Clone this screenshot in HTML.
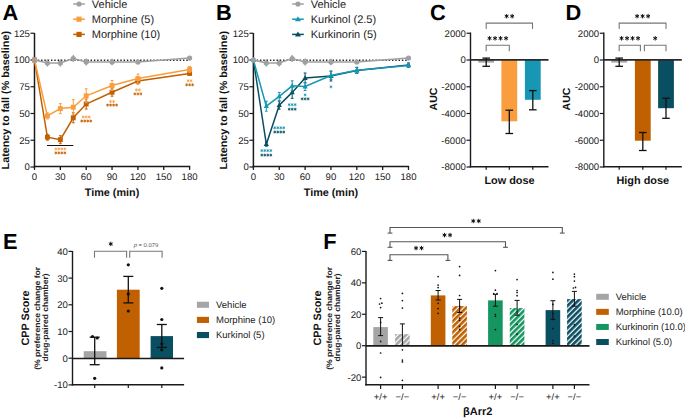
<!DOCTYPE html>
<html><head><meta charset="utf-8"><style>
html,body{margin:0;padding:0;background:#fff;width:685px;height:418px;overflow:hidden}
svg{display:block;font-family:"Liberation Sans", sans-serif;text-rendering:geometricPrecision}
</style></head><body>
<svg width="685" height="418" viewBox="0 0 685 418">
<rect width="685" height="418" fill="#fff"/>
<text x="2.40" y="19.90" font-size="21.8" text-anchor="start" font-weight="bold" fill="#000" >A</text>
<text x="216.00" y="19.90" font-size="21.8" text-anchor="start" font-weight="bold" fill="#000" >B</text>
<text x="430.00" y="19.90" font-size="21.8" text-anchor="start" font-weight="bold" fill="#000" >C</text>
<text x="565.40" y="19.90" font-size="21.8" text-anchor="start" font-weight="bold" fill="#000" >D</text>
<text x="3.00" y="248.60" font-size="21.8" text-anchor="start" font-weight="bold" fill="#000" >E</text>
<text x="323.20" y="248.60" font-size="21.8" text-anchor="start" font-weight="bold" fill="#000" >F</text>
<line x1="34.50" y1="33.00" x2="34.50" y2="167.30" stroke="#1a1a1a" stroke-width="1.5" />
<line x1="33.80" y1="166.60" x2="190.20" y2="166.60" stroke="#1a1a1a" stroke-width="1.5" />
<line x1="30.50" y1="33.25" x2="34.50" y2="33.25" stroke="#1a1a1a" stroke-width="1.2" />
<text x="29.90" y="36.70" font-size="9.6" text-anchor="end" font-weight="normal" fill="#222" >125</text>
<line x1="30.50" y1="60.00" x2="34.50" y2="60.00" stroke="#1a1a1a" stroke-width="1.2" />
<text x="29.90" y="63.45" font-size="9.6" text-anchor="end" font-weight="normal" fill="#222" >100</text>
<line x1="30.50" y1="86.75" x2="34.50" y2="86.75" stroke="#1a1a1a" stroke-width="1.2" />
<text x="29.90" y="90.20" font-size="9.6" text-anchor="end" font-weight="normal" fill="#222" >75</text>
<line x1="30.50" y1="113.50" x2="34.50" y2="113.50" stroke="#1a1a1a" stroke-width="1.2" />
<text x="29.90" y="116.95" font-size="9.6" text-anchor="end" font-weight="normal" fill="#222" >50</text>
<line x1="30.50" y1="140.25" x2="34.50" y2="140.25" stroke="#1a1a1a" stroke-width="1.2" />
<text x="29.90" y="143.70" font-size="9.6" text-anchor="end" font-weight="normal" fill="#222" >25</text>
<line x1="30.50" y1="167.00" x2="34.50" y2="167.00" stroke="#1a1a1a" stroke-width="1.2" />
<text x="29.90" y="170.45" font-size="9.6" text-anchor="end" font-weight="normal" fill="#222" >0</text>
<line x1="34.50" y1="166.60" x2="34.50" y2="169.90" stroke="#1a1a1a" stroke-width="1.3" />
<text x="34.50" y="180.10" font-size="9.6" text-anchor="middle" font-weight="normal" fill="#222" >0</text>
<line x1="60.35" y1="166.60" x2="60.35" y2="169.90" stroke="#1a1a1a" stroke-width="1.3" />
<text x="60.35" y="180.10" font-size="9.6" text-anchor="middle" font-weight="normal" fill="#222" >30</text>
<line x1="86.20" y1="166.60" x2="86.20" y2="169.90" stroke="#1a1a1a" stroke-width="1.3" />
<text x="86.20" y="180.10" font-size="9.6" text-anchor="middle" font-weight="normal" fill="#222" >60</text>
<line x1="112.05" y1="166.60" x2="112.05" y2="169.90" stroke="#1a1a1a" stroke-width="1.3" />
<text x="112.05" y="180.10" font-size="9.6" text-anchor="middle" font-weight="normal" fill="#222" >90</text>
<line x1="137.90" y1="166.60" x2="137.90" y2="169.90" stroke="#1a1a1a" stroke-width="1.3" />
<text x="137.90" y="180.10" font-size="9.6" text-anchor="middle" font-weight="normal" fill="#222" >120</text>
<line x1="163.75" y1="166.60" x2="163.75" y2="169.90" stroke="#1a1a1a" stroke-width="1.3" />
<text x="163.75" y="180.10" font-size="9.6" text-anchor="middle" font-weight="normal" fill="#222" >150</text>
<line x1="189.60" y1="166.60" x2="189.60" y2="169.90" stroke="#1a1a1a" stroke-width="1.3" />
<text x="189.60" y="180.10" font-size="9.6" text-anchor="middle" font-weight="normal" fill="#222" >180</text>
<text x="112.05" y="195.80" font-size="10.8" text-anchor="middle" font-weight="bold" fill="#111" >Time (min)</text>
<text transform="translate(9.3,100.2) rotate(-90)" x="0" y="0" font-size="10.5" text-anchor="middle" font-weight="bold" fill="#111" textLength="138.5" lengthAdjust="spacingAndGlyphs">Latency to fall (% baseline)</text>
<line x1="34.50" y1="60.30" x2="189.60" y2="60.30" stroke="#222" stroke-width="1.4" stroke-dasharray="1.4 1.9"/>
<polyline points="34.50,60.00 47.42,137.20 60.35,139.70 73.28,117.80 86.20,104.00 112.05,92.20 137.90,81.00 189.60,73.40" fill="none" stroke="#C06000" stroke-width="1.5"/>
<rect x="32.05" y="57.55" width="4.90" height="4.90" fill="#C06000"/>
<line x1="47.42" y1="134.20" x2="47.42" y2="140.20" stroke="#C06000" stroke-width="1.0" />
<line x1="46.02" y1="134.20" x2="48.82" y2="134.20" stroke="#C06000" stroke-width="1.0" />
<line x1="46.02" y1="140.20" x2="48.82" y2="140.20" stroke="#C06000" stroke-width="1.0" />
<rect x="44.97" y="134.75" width="4.90" height="4.90" fill="#C06000"/>
<line x1="60.35" y1="135.70" x2="60.35" y2="143.70" stroke="#C06000" stroke-width="1.0" />
<line x1="58.95" y1="135.70" x2="61.75" y2="135.70" stroke="#C06000" stroke-width="1.0" />
<line x1="58.95" y1="143.70" x2="61.75" y2="143.70" stroke="#C06000" stroke-width="1.0" />
<rect x="57.90" y="137.25" width="4.90" height="4.90" fill="#C06000"/>
<line x1="73.28" y1="112.80" x2="73.28" y2="122.80" stroke="#C06000" stroke-width="1.0" />
<line x1="71.88" y1="112.80" x2="74.68" y2="112.80" stroke="#C06000" stroke-width="1.0" />
<line x1="71.88" y1="122.80" x2="74.68" y2="122.80" stroke="#C06000" stroke-width="1.0" />
<rect x="70.83" y="115.35" width="4.90" height="4.90" fill="#C06000"/>
<line x1="86.20" y1="99.00" x2="86.20" y2="109.00" stroke="#C06000" stroke-width="1.0" />
<line x1="84.80" y1="99.00" x2="87.60" y2="99.00" stroke="#C06000" stroke-width="1.0" />
<line x1="84.80" y1="109.00" x2="87.60" y2="109.00" stroke="#C06000" stroke-width="1.0" />
<rect x="83.75" y="101.55" width="4.90" height="4.90" fill="#C06000"/>
<line x1="112.05" y1="88.20" x2="112.05" y2="96.20" stroke="#C06000" stroke-width="1.0" />
<line x1="110.65" y1="88.20" x2="113.45" y2="88.20" stroke="#C06000" stroke-width="1.0" />
<line x1="110.65" y1="96.20" x2="113.45" y2="96.20" stroke="#C06000" stroke-width="1.0" />
<rect x="109.60" y="89.75" width="4.90" height="4.90" fill="#C06000"/>
<line x1="137.90" y1="78.00" x2="137.90" y2="84.00" stroke="#C06000" stroke-width="1.0" />
<line x1="136.50" y1="78.00" x2="139.30" y2="78.00" stroke="#C06000" stroke-width="1.0" />
<line x1="136.50" y1="84.00" x2="139.30" y2="84.00" stroke="#C06000" stroke-width="1.0" />
<rect x="135.45" y="78.55" width="4.90" height="4.90" fill="#C06000"/>
<line x1="189.60" y1="71.40" x2="189.60" y2="75.40" stroke="#C06000" stroke-width="1.0" />
<line x1="188.20" y1="71.40" x2="191.00" y2="71.40" stroke="#C06000" stroke-width="1.0" />
<line x1="188.20" y1="75.40" x2="191.00" y2="75.40" stroke="#C06000" stroke-width="1.0" />
<rect x="187.15" y="70.95" width="4.90" height="4.90" fill="#C06000"/>
<polyline points="34.50,60.00 47.42,115.90 60.35,108.60 73.28,107.20 86.20,95.80 112.05,85.50 137.90,78.60 189.60,69.40" fill="none" stroke="#F99D3E" stroke-width="1.5"/>
<rect x="32.05" y="57.55" width="4.90" height="4.90" fill="#F99D3E"/>
<line x1="47.42" y1="112.90" x2="47.42" y2="118.90" stroke="#F99D3E" stroke-width="1.0" />
<line x1="46.02" y1="112.90" x2="48.82" y2="112.90" stroke="#F99D3E" stroke-width="1.0" />
<line x1="46.02" y1="118.90" x2="48.82" y2="118.90" stroke="#F99D3E" stroke-width="1.0" />
<rect x="44.97" y="113.45" width="4.90" height="4.90" fill="#F99D3E"/>
<line x1="60.35" y1="103.60" x2="60.35" y2="113.60" stroke="#F99D3E" stroke-width="1.0" />
<line x1="58.95" y1="103.60" x2="61.75" y2="103.60" stroke="#F99D3E" stroke-width="1.0" />
<line x1="58.95" y1="113.60" x2="61.75" y2="113.60" stroke="#F99D3E" stroke-width="1.0" />
<rect x="57.90" y="106.15" width="4.90" height="4.90" fill="#F99D3E"/>
<line x1="73.28" y1="99.70" x2="73.28" y2="114.70" stroke="#F99D3E" stroke-width="1.0" />
<line x1="71.88" y1="99.70" x2="74.68" y2="99.70" stroke="#F99D3E" stroke-width="1.0" />
<line x1="71.88" y1="114.70" x2="74.68" y2="114.70" stroke="#F99D3E" stroke-width="1.0" />
<rect x="70.83" y="104.75" width="4.90" height="4.90" fill="#F99D3E"/>
<line x1="86.20" y1="88.80" x2="86.20" y2="102.80" stroke="#F99D3E" stroke-width="1.0" />
<line x1="84.80" y1="88.80" x2="87.60" y2="88.80" stroke="#F99D3E" stroke-width="1.0" />
<line x1="84.80" y1="102.80" x2="87.60" y2="102.80" stroke="#F99D3E" stroke-width="1.0" />
<rect x="83.75" y="93.35" width="4.90" height="4.90" fill="#F99D3E"/>
<line x1="112.05" y1="80.50" x2="112.05" y2="90.50" stroke="#F99D3E" stroke-width="1.0" />
<line x1="110.65" y1="80.50" x2="113.45" y2="80.50" stroke="#F99D3E" stroke-width="1.0" />
<line x1="110.65" y1="90.50" x2="113.45" y2="90.50" stroke="#F99D3E" stroke-width="1.0" />
<rect x="109.60" y="83.05" width="4.90" height="4.90" fill="#F99D3E"/>
<line x1="137.90" y1="74.10" x2="137.90" y2="83.10" stroke="#F99D3E" stroke-width="1.0" />
<line x1="136.50" y1="74.10" x2="139.30" y2="74.10" stroke="#F99D3E" stroke-width="1.0" />
<line x1="136.50" y1="83.10" x2="139.30" y2="83.10" stroke="#F99D3E" stroke-width="1.0" />
<rect x="135.45" y="76.15" width="4.90" height="4.90" fill="#F99D3E"/>
<line x1="189.60" y1="66.40" x2="189.60" y2="72.40" stroke="#F99D3E" stroke-width="1.0" />
<line x1="188.20" y1="66.40" x2="191.00" y2="66.40" stroke="#F99D3E" stroke-width="1.0" />
<line x1="188.20" y1="72.40" x2="191.00" y2="72.40" stroke="#F99D3E" stroke-width="1.0" />
<rect x="187.15" y="66.95" width="4.90" height="4.90" fill="#F99D3E"/>
<polyline points="34.50,60.00 47.42,63.00 60.35,63.00 73.28,58.50 86.20,62.00 112.05,62.00 137.90,62.00 189.60,58.10" fill="none" stroke="#A0A0A4" stroke-width="1.5"/>
<circle cx="34.50" cy="60.00" r="2.6" fill="#A0A0A4"/>
<line x1="47.42" y1="59.40" x2="47.42" y2="66.60" stroke="#A0A0A4" stroke-width="1.4" />
<circle cx="47.42" cy="63.00" r="2.6" fill="#A0A0A4"/>
<line x1="60.35" y1="59.40" x2="60.35" y2="66.60" stroke="#A0A0A4" stroke-width="1.4" />
<circle cx="60.35" cy="63.00" r="2.6" fill="#A0A0A4"/>
<line x1="73.28" y1="54.90" x2="73.28" y2="62.10" stroke="#A0A0A4" stroke-width="1.4" />
<circle cx="73.28" cy="58.50" r="2.6" fill="#A0A0A4"/>
<line x1="86.20" y1="58.40" x2="86.20" y2="65.60" stroke="#A0A0A4" stroke-width="1.4" />
<circle cx="86.20" cy="62.00" r="2.6" fill="#A0A0A4"/>
<line x1="112.05" y1="58.80" x2="112.05" y2="65.20" stroke="#A0A0A4" stroke-width="1.4" />
<circle cx="112.05" cy="62.00" r="2.6" fill="#A0A0A4"/>
<line x1="137.90" y1="59.80" x2="137.90" y2="64.20" stroke="#A0A0A4" stroke-width="1.4" />
<circle cx="137.90" cy="62.00" r="2.6" fill="#A0A0A4"/>
<circle cx="189.60" cy="58.10" r="2.6" fill="#A0A0A4"/>
<line x1="73.20" y1="4.00" x2="84.90" y2="4.00" stroke="#A0A0A4" stroke-width="1.5" />
<circle cx="79.05" cy="4.00" r="2.6" fill="#A0A0A4"/>
<text x="91.80" y="8.00" font-size="11" text-anchor="start" font-weight="normal" fill="#222" >Vehicle</text>
<line x1="73.20" y1="19.20" x2="84.90" y2="19.20" stroke="#F99D3E" stroke-width="1.5" />
<rect x="76.45" y="16.60" width="5.20" height="5.20" fill="#F99D3E"/>
<text x="91.80" y="23.20" font-size="11" text-anchor="start" font-weight="normal" fill="#222" >Morphine (5)</text>
<line x1="73.20" y1="34.40" x2="84.90" y2="34.40" stroke="#C06000" stroke-width="1.5" />
<rect x="76.45" y="31.80" width="5.20" height="5.20" fill="#C06000"/>
<text x="91.80" y="38.40" font-size="11" text-anchor="start" font-weight="normal" fill="#222" >Morphine (10)</text>
<path d="M55.85,147.40L55.85,150.40M54.55,148.15L57.15,149.65M57.15,148.15L54.55,149.65" stroke="#F99D3E" stroke-width="0.8" fill="none" stroke-linecap="butt"/>
<path d="M58.85,147.40L58.85,150.40M57.55,148.15L60.15,149.65M60.15,148.15L57.55,149.65" stroke="#F99D3E" stroke-width="0.8" fill="none" stroke-linecap="butt"/>
<path d="M61.85,147.40L61.85,150.40M60.55,148.15L63.15,149.65M63.15,148.15L60.55,149.65" stroke="#F99D3E" stroke-width="0.8" fill="none" stroke-linecap="butt"/>
<path d="M64.85,147.40L64.85,150.40M63.55,148.15L66.15,149.65M66.15,148.15L63.55,149.65" stroke="#F99D3E" stroke-width="0.8" fill="none" stroke-linecap="butt"/>
<path d="M55.85,151.40L55.85,154.40M54.55,152.15L57.15,153.65M57.15,152.15L54.55,153.65" stroke="#C06000" stroke-width="0.8" fill="none" stroke-linecap="butt"/>
<path d="M58.85,151.40L58.85,154.40M57.55,152.15L60.15,153.65M60.15,152.15L57.55,153.65" stroke="#C06000" stroke-width="0.8" fill="none" stroke-linecap="butt"/>
<path d="M61.85,151.40L61.85,154.40M60.55,152.15L63.15,153.65M63.15,152.15L60.55,153.65" stroke="#C06000" stroke-width="0.8" fill="none" stroke-linecap="butt"/>
<path d="M64.85,151.40L64.85,154.40M63.55,152.15L66.15,153.65M66.15,152.15L63.55,153.65" stroke="#C06000" stroke-width="0.8" fill="none" stroke-linecap="butt"/>
<path d="M83.20,115.50L83.20,118.50M81.90,116.25L84.50,117.75M84.50,116.25L81.90,117.75" stroke="#F99D3E" stroke-width="0.8" fill="none" stroke-linecap="butt"/>
<path d="M86.20,115.50L86.20,118.50M84.90,116.25L87.50,117.75M87.50,116.25L84.90,117.75" stroke="#F99D3E" stroke-width="0.8" fill="none" stroke-linecap="butt"/>
<path d="M89.20,115.50L89.20,118.50M87.90,116.25L90.50,117.75M90.50,116.25L87.90,117.75" stroke="#F99D3E" stroke-width="0.8" fill="none" stroke-linecap="butt"/>
<path d="M81.70,119.50L81.70,122.50M80.40,120.25L83.00,121.75M83.00,120.25L80.40,121.75" stroke="#C06000" stroke-width="0.8" fill="none" stroke-linecap="butt"/>
<path d="M84.70,119.50L84.70,122.50M83.40,120.25L86.00,121.75M86.00,120.25L83.40,121.75" stroke="#C06000" stroke-width="0.8" fill="none" stroke-linecap="butt"/>
<path d="M87.70,119.50L87.70,122.50M86.40,120.25L89.00,121.75M89.00,120.25L86.40,121.75" stroke="#C06000" stroke-width="0.8" fill="none" stroke-linecap="butt"/>
<path d="M90.70,119.50L90.70,122.50M89.40,120.25L92.00,121.75M92.00,120.25L89.40,121.75" stroke="#C06000" stroke-width="0.8" fill="none" stroke-linecap="butt"/>
<path d="M110.55,100.00L110.55,103.00M109.25,100.75L111.85,102.25M111.85,100.75L109.25,102.25" stroke="#F99D3E" stroke-width="0.8" fill="none" stroke-linecap="butt"/>
<path d="M113.55,100.00L113.55,103.00M112.25,100.75L114.85,102.25M114.85,100.75L112.25,102.25" stroke="#F99D3E" stroke-width="0.8" fill="none" stroke-linecap="butt"/>
<path d="M107.55,103.60L107.55,106.60M106.25,104.35L108.85,105.85M108.85,104.35L106.25,105.85" stroke="#C06000" stroke-width="0.8" fill="none" stroke-linecap="butt"/>
<path d="M110.55,103.60L110.55,106.60M109.25,104.35L111.85,105.85M111.85,104.35L109.25,105.85" stroke="#C06000" stroke-width="0.8" fill="none" stroke-linecap="butt"/>
<path d="M113.55,103.60L113.55,106.60M112.25,104.35L114.85,105.85M114.85,104.35L112.25,105.85" stroke="#C06000" stroke-width="0.8" fill="none" stroke-linecap="butt"/>
<path d="M116.55,103.60L116.55,106.60M115.25,104.35L117.85,105.85M117.85,104.35L115.25,105.85" stroke="#C06000" stroke-width="0.8" fill="none" stroke-linecap="butt"/>
<path d="M136.40,88.40L136.40,91.40M135.10,89.15L137.70,90.65M137.70,89.15L135.10,90.65" stroke="#F99D3E" stroke-width="0.8" fill="none" stroke-linecap="butt"/>
<path d="M139.40,88.40L139.40,91.40M138.10,89.15L140.70,90.65M140.70,89.15L138.10,90.65" stroke="#F99D3E" stroke-width="0.8" fill="none" stroke-linecap="butt"/>
<path d="M134.90,92.40L134.90,95.40M133.60,93.15L136.20,94.65M136.20,93.15L133.60,94.65" stroke="#C06000" stroke-width="0.8" fill="none" stroke-linecap="butt"/>
<path d="M137.90,92.40L137.90,95.40M136.60,93.15L139.20,94.65M139.20,93.15L136.60,94.65" stroke="#C06000" stroke-width="0.8" fill="none" stroke-linecap="butt"/>
<path d="M140.90,92.40L140.90,95.40M139.60,93.15L142.20,94.65M142.20,93.15L139.60,94.65" stroke="#C06000" stroke-width="0.8" fill="none" stroke-linecap="butt"/>
<path d="M188.10,79.30L188.10,82.30M186.80,80.05L189.40,81.55M189.40,80.05L186.80,81.55" stroke="#F99D3E" stroke-width="0.8" fill="none" stroke-linecap="butt"/>
<path d="M191.10,79.30L191.10,82.30M189.80,80.05L192.40,81.55M192.40,80.05L189.80,81.55" stroke="#F99D3E" stroke-width="0.8" fill="none" stroke-linecap="butt"/>
<path d="M186.60,83.30L186.60,86.30M185.30,84.05L187.90,85.55M187.90,84.05L185.30,85.55" stroke="#C06000" stroke-width="0.8" fill="none" stroke-linecap="butt"/>
<path d="M189.60,83.30L189.60,86.30M188.30,84.05L190.90,85.55M190.90,84.05L188.30,85.55" stroke="#C06000" stroke-width="0.8" fill="none" stroke-linecap="butt"/>
<path d="M192.60,83.30L192.60,86.30M191.30,84.05L193.90,85.55M193.90,84.05L191.30,85.55" stroke="#C06000" stroke-width="0.8" fill="none" stroke-linecap="butt"/>
<line x1="47.00" y1="145.50" x2="73.30" y2="145.50" stroke="#111" stroke-width="1.0" />
<line x1="253.40" y1="33.00" x2="253.40" y2="167.30" stroke="#1a1a1a" stroke-width="1.5" />
<line x1="252.70" y1="166.60" x2="409.10" y2="166.60" stroke="#1a1a1a" stroke-width="1.5" />
<line x1="249.40" y1="33.25" x2="253.40" y2="33.25" stroke="#1a1a1a" stroke-width="1.2" />
<text x="248.80" y="36.70" font-size="9.6" text-anchor="end" font-weight="normal" fill="#222" >125</text>
<line x1="249.40" y1="60.00" x2="253.40" y2="60.00" stroke="#1a1a1a" stroke-width="1.2" />
<text x="248.80" y="63.45" font-size="9.6" text-anchor="end" font-weight="normal" fill="#222" >100</text>
<line x1="249.40" y1="86.75" x2="253.40" y2="86.75" stroke="#1a1a1a" stroke-width="1.2" />
<text x="248.80" y="90.20" font-size="9.6" text-anchor="end" font-weight="normal" fill="#222" >75</text>
<line x1="249.40" y1="113.50" x2="253.40" y2="113.50" stroke="#1a1a1a" stroke-width="1.2" />
<text x="248.80" y="116.95" font-size="9.6" text-anchor="end" font-weight="normal" fill="#222" >50</text>
<line x1="249.40" y1="140.25" x2="253.40" y2="140.25" stroke="#1a1a1a" stroke-width="1.2" />
<text x="248.80" y="143.70" font-size="9.6" text-anchor="end" font-weight="normal" fill="#222" >25</text>
<line x1="249.40" y1="167.00" x2="253.40" y2="167.00" stroke="#1a1a1a" stroke-width="1.2" />
<text x="248.80" y="170.45" font-size="9.6" text-anchor="end" font-weight="normal" fill="#222" >0</text>
<line x1="253.40" y1="166.60" x2="253.40" y2="169.90" stroke="#1a1a1a" stroke-width="1.3" />
<text x="253.40" y="180.10" font-size="9.6" text-anchor="middle" font-weight="normal" fill="#222" >0</text>
<line x1="279.25" y1="166.60" x2="279.25" y2="169.90" stroke="#1a1a1a" stroke-width="1.3" />
<text x="279.25" y="180.10" font-size="9.6" text-anchor="middle" font-weight="normal" fill="#222" >30</text>
<line x1="305.10" y1="166.60" x2="305.10" y2="169.90" stroke="#1a1a1a" stroke-width="1.3" />
<text x="305.10" y="180.10" font-size="9.6" text-anchor="middle" font-weight="normal" fill="#222" >60</text>
<line x1="330.95" y1="166.60" x2="330.95" y2="169.90" stroke="#1a1a1a" stroke-width="1.3" />
<text x="330.95" y="180.10" font-size="9.6" text-anchor="middle" font-weight="normal" fill="#222" >90</text>
<line x1="356.80" y1="166.60" x2="356.80" y2="169.90" stroke="#1a1a1a" stroke-width="1.3" />
<text x="356.80" y="180.10" font-size="9.6" text-anchor="middle" font-weight="normal" fill="#222" >120</text>
<line x1="382.65" y1="166.60" x2="382.65" y2="169.90" stroke="#1a1a1a" stroke-width="1.3" />
<text x="382.65" y="180.10" font-size="9.6" text-anchor="middle" font-weight="normal" fill="#222" >150</text>
<line x1="408.50" y1="166.60" x2="408.50" y2="169.90" stroke="#1a1a1a" stroke-width="1.3" />
<text x="408.50" y="180.10" font-size="9.6" text-anchor="middle" font-weight="normal" fill="#222" >180</text>
<text x="330.95" y="195.80" font-size="10.8" text-anchor="middle" font-weight="bold" fill="#111" >Time (min)</text>
<text transform="translate(227.2,100.2) rotate(-90)" x="0" y="0" font-size="10.5" text-anchor="middle" font-weight="bold" fill="#111" textLength="138.5" lengthAdjust="spacingAndGlyphs">Latency to fall (% baseline)</text>
<line x1="253.40" y1="60.30" x2="408.50" y2="60.30" stroke="#222" stroke-width="1.4" stroke-dasharray="1.4 1.9"/>
<polyline points="253.40,60.00 266.32,144.20 279.25,105.20 292.18,92.40 305.10,78.00 330.95,76.00 356.80,70.50 408.50,65.00" fill="none" stroke="#0A4E62" stroke-width="1.5"/>
<polygon points="253.40,57.10 256.00,61.90 250.80,61.90" fill="#0A4E62"/>
<line x1="266.32" y1="142.20" x2="266.32" y2="146.20" stroke="#0A4E62" stroke-width="1.0" />
<line x1="264.93" y1="142.20" x2="267.72" y2="142.20" stroke="#0A4E62" stroke-width="1.0" />
<line x1="264.93" y1="146.20" x2="267.72" y2="146.20" stroke="#0A4E62" stroke-width="1.0" />
<polygon points="266.32,141.30 268.93,146.10 263.72,146.10" fill="#0A4E62"/>
<line x1="279.25" y1="101.20" x2="279.25" y2="109.20" stroke="#0A4E62" stroke-width="1.0" />
<line x1="277.85" y1="101.20" x2="280.65" y2="101.20" stroke="#0A4E62" stroke-width="1.0" />
<line x1="277.85" y1="109.20" x2="280.65" y2="109.20" stroke="#0A4E62" stroke-width="1.0" />
<polygon points="279.25,102.30 281.85,107.10 276.65,107.10" fill="#0A4E62"/>
<line x1="292.18" y1="86.40" x2="292.18" y2="98.40" stroke="#0A4E62" stroke-width="1.0" />
<line x1="290.78" y1="86.40" x2="293.57" y2="86.40" stroke="#0A4E62" stroke-width="1.0" />
<line x1="290.78" y1="98.40" x2="293.57" y2="98.40" stroke="#0A4E62" stroke-width="1.0" />
<polygon points="292.18,89.50 294.78,94.30 289.57,94.30" fill="#0A4E62"/>
<line x1="305.10" y1="73.00" x2="305.10" y2="83.00" stroke="#0A4E62" stroke-width="1.0" />
<line x1="303.70" y1="73.00" x2="306.50" y2="73.00" stroke="#0A4E62" stroke-width="1.0" />
<line x1="303.70" y1="83.00" x2="306.50" y2="83.00" stroke="#0A4E62" stroke-width="1.0" />
<polygon points="305.10,75.10 307.70,79.90 302.50,79.90" fill="#0A4E62"/>
<line x1="330.95" y1="71.00" x2="330.95" y2="81.00" stroke="#0A4E62" stroke-width="1.0" />
<line x1="329.55" y1="71.00" x2="332.35" y2="71.00" stroke="#0A4E62" stroke-width="1.0" />
<line x1="329.55" y1="81.00" x2="332.35" y2="81.00" stroke="#0A4E62" stroke-width="1.0" />
<polygon points="330.95,73.10 333.55,77.90 328.35,77.90" fill="#0A4E62"/>
<line x1="356.80" y1="67.50" x2="356.80" y2="73.50" stroke="#0A4E62" stroke-width="1.0" />
<line x1="355.40" y1="67.50" x2="358.20" y2="67.50" stroke="#0A4E62" stroke-width="1.0" />
<line x1="355.40" y1="73.50" x2="358.20" y2="73.50" stroke="#0A4E62" stroke-width="1.0" />
<polygon points="356.80,67.60 359.40,72.40 354.20,72.40" fill="#0A4E62"/>
<line x1="408.50" y1="63.00" x2="408.50" y2="67.00" stroke="#0A4E62" stroke-width="1.0" />
<line x1="407.10" y1="63.00" x2="409.90" y2="63.00" stroke="#0A4E62" stroke-width="1.0" />
<line x1="407.10" y1="67.00" x2="409.90" y2="67.00" stroke="#0A4E62" stroke-width="1.0" />
<polygon points="408.50,62.10 411.10,66.90 405.90,66.90" fill="#0A4E62"/>
<polyline points="253.40,60.00 266.32,106.20 279.25,96.40 292.18,85.80 305.10,86.50 330.95,75.50 356.80,70.20 408.50,65.40" fill="none" stroke="#1797B3" stroke-width="1.5"/>
<polygon points="253.40,57.10 256.00,61.90 250.80,61.90" fill="#1797B3"/>
<line x1="266.32" y1="101.20" x2="266.32" y2="111.20" stroke="#1797B3" stroke-width="1.0" />
<line x1="264.93" y1="101.20" x2="267.72" y2="101.20" stroke="#1797B3" stroke-width="1.0" />
<line x1="264.93" y1="111.20" x2="267.72" y2="111.20" stroke="#1797B3" stroke-width="1.0" />
<polygon points="266.32,103.30 268.93,108.10 263.72,108.10" fill="#1797B3"/>
<line x1="279.25" y1="92.40" x2="279.25" y2="100.40" stroke="#1797B3" stroke-width="1.0" />
<line x1="277.85" y1="92.40" x2="280.65" y2="92.40" stroke="#1797B3" stroke-width="1.0" />
<line x1="277.85" y1="100.40" x2="280.65" y2="100.40" stroke="#1797B3" stroke-width="1.0" />
<polygon points="279.25,93.50 281.85,98.30 276.65,98.30" fill="#1797B3"/>
<line x1="292.18" y1="80.80" x2="292.18" y2="90.80" stroke="#1797B3" stroke-width="1.0" />
<line x1="290.78" y1="80.80" x2="293.57" y2="80.80" stroke="#1797B3" stroke-width="1.0" />
<line x1="290.78" y1="90.80" x2="293.57" y2="90.80" stroke="#1797B3" stroke-width="1.0" />
<polygon points="292.18,82.90 294.78,87.70 289.57,87.70" fill="#1797B3"/>
<line x1="305.10" y1="82.50" x2="305.10" y2="90.50" stroke="#1797B3" stroke-width="1.0" />
<line x1="303.70" y1="82.50" x2="306.50" y2="82.50" stroke="#1797B3" stroke-width="1.0" />
<line x1="303.70" y1="90.50" x2="306.50" y2="90.50" stroke="#1797B3" stroke-width="1.0" />
<polygon points="305.10,83.60 307.70,88.40 302.50,88.40" fill="#1797B3"/>
<line x1="330.95" y1="71.50" x2="330.95" y2="79.50" stroke="#1797B3" stroke-width="1.0" />
<line x1="329.55" y1="71.50" x2="332.35" y2="71.50" stroke="#1797B3" stroke-width="1.0" />
<line x1="329.55" y1="79.50" x2="332.35" y2="79.50" stroke="#1797B3" stroke-width="1.0" />
<polygon points="330.95,72.60 333.55,77.40 328.35,77.40" fill="#1797B3"/>
<line x1="356.80" y1="67.20" x2="356.80" y2="73.20" stroke="#1797B3" stroke-width="1.0" />
<line x1="355.40" y1="67.20" x2="358.20" y2="67.20" stroke="#1797B3" stroke-width="1.0" />
<line x1="355.40" y1="73.20" x2="358.20" y2="73.20" stroke="#1797B3" stroke-width="1.0" />
<polygon points="356.80,67.30 359.40,72.10 354.20,72.10" fill="#1797B3"/>
<line x1="408.50" y1="63.40" x2="408.50" y2="67.40" stroke="#1797B3" stroke-width="1.0" />
<line x1="407.10" y1="63.40" x2="409.90" y2="63.40" stroke="#1797B3" stroke-width="1.0" />
<line x1="407.10" y1="67.40" x2="409.90" y2="67.40" stroke="#1797B3" stroke-width="1.0" />
<polygon points="408.50,62.50 411.10,67.30 405.90,67.30" fill="#1797B3"/>
<polyline points="253.40,60.00 266.32,63.00 279.25,63.00 292.18,58.50 305.10,62.00 330.95,62.00 356.80,62.00 408.50,58.10" fill="none" stroke="#A0A0A4" stroke-width="1.5"/>
<circle cx="253.40" cy="60.00" r="2.6" fill="#A0A0A4"/>
<line x1="266.32" y1="59.40" x2="266.32" y2="66.60" stroke="#A0A0A4" stroke-width="1.4" />
<circle cx="266.32" cy="63.00" r="2.6" fill="#A0A0A4"/>
<line x1="279.25" y1="59.40" x2="279.25" y2="66.60" stroke="#A0A0A4" stroke-width="1.4" />
<circle cx="279.25" cy="63.00" r="2.6" fill="#A0A0A4"/>
<line x1="292.18" y1="54.90" x2="292.18" y2="62.10" stroke="#A0A0A4" stroke-width="1.4" />
<circle cx="292.18" cy="58.50" r="2.6" fill="#A0A0A4"/>
<line x1="305.10" y1="58.40" x2="305.10" y2="65.60" stroke="#A0A0A4" stroke-width="1.4" />
<circle cx="305.10" cy="62.00" r="2.6" fill="#A0A0A4"/>
<line x1="330.95" y1="58.80" x2="330.95" y2="65.20" stroke="#A0A0A4" stroke-width="1.4" />
<circle cx="330.95" cy="62.00" r="2.6" fill="#A0A0A4"/>
<line x1="356.80" y1="59.80" x2="356.80" y2="64.20" stroke="#A0A0A4" stroke-width="1.4" />
<circle cx="356.80" cy="62.00" r="2.6" fill="#A0A0A4"/>
<circle cx="408.50" cy="58.10" r="2.6" fill="#A0A0A4"/>
<line x1="292.10" y1="4.00" x2="303.80" y2="4.00" stroke="#A0A0A4" stroke-width="1.5" />
<circle cx="297.95" cy="4.00" r="2.6" fill="#A0A0A4"/>
<text x="310.70" y="8.00" font-size="11" text-anchor="start" font-weight="normal" fill="#222" >Vehicle</text>
<line x1="292.10" y1="19.20" x2="303.80" y2="19.20" stroke="#1797B3" stroke-width="1.5" />
<polygon points="297.95,16.20 300.95,21.30 294.95,21.30" fill="#1797B3"/>
<text x="310.70" y="23.20" font-size="11" text-anchor="start" font-weight="normal" fill="#222" >Kurkinol (2.5)</text>
<line x1="292.10" y1="34.40" x2="303.80" y2="34.40" stroke="#0A4E62" stroke-width="1.5" />
<polygon points="297.95,31.40 300.95,36.50 294.95,36.50" fill="#0A4E62"/>
<text x="310.70" y="38.40" font-size="11" text-anchor="start" font-weight="normal" fill="#222" >Kurkinorin (5)</text>
<path d="M261.82,149.10L261.82,152.10M260.53,149.85L263.12,151.35M263.12,149.85L260.53,151.35" stroke="#1797B3" stroke-width="0.8" fill="none" stroke-linecap="butt"/>
<path d="M264.82,149.10L264.82,152.10M263.53,149.85L266.12,151.35M266.12,149.85L263.53,151.35" stroke="#1797B3" stroke-width="0.8" fill="none" stroke-linecap="butt"/>
<path d="M267.82,149.10L267.82,152.10M266.53,149.85L269.12,151.35M269.12,149.85L266.53,151.35" stroke="#1797B3" stroke-width="0.8" fill="none" stroke-linecap="butt"/>
<path d="M270.82,149.10L270.82,152.10M269.53,149.85L272.12,151.35M272.12,149.85L269.53,151.35" stroke="#1797B3" stroke-width="0.8" fill="none" stroke-linecap="butt"/>
<path d="M261.82,153.60L261.82,156.60M260.53,154.35L263.12,155.85M263.12,154.35L260.53,155.85" stroke="#0A4E62" stroke-width="0.8" fill="none" stroke-linecap="butt"/>
<path d="M264.82,153.60L264.82,156.60M263.53,154.35L266.12,155.85M266.12,154.35L263.53,155.85" stroke="#0A4E62" stroke-width="0.8" fill="none" stroke-linecap="butt"/>
<path d="M267.82,153.60L267.82,156.60M266.53,154.35L269.12,155.85M269.12,154.35L266.53,155.85" stroke="#0A4E62" stroke-width="0.8" fill="none" stroke-linecap="butt"/>
<path d="M270.82,153.60L270.82,156.60M269.53,154.35L272.12,155.85M272.12,154.35L269.53,155.85" stroke="#0A4E62" stroke-width="0.8" fill="none" stroke-linecap="butt"/>
<path d="M274.75,126.30L274.75,129.30M273.45,127.05L276.05,128.55M276.05,127.05L273.45,128.55" stroke="#1797B3" stroke-width="0.8" fill="none" stroke-linecap="butt"/>
<path d="M277.75,126.30L277.75,129.30M276.45,127.05L279.05,128.55M279.05,127.05L276.45,128.55" stroke="#1797B3" stroke-width="0.8" fill="none" stroke-linecap="butt"/>
<path d="M280.75,126.30L280.75,129.30M279.45,127.05L282.05,128.55M282.05,127.05L279.45,128.55" stroke="#1797B3" stroke-width="0.8" fill="none" stroke-linecap="butt"/>
<path d="M283.75,126.30L283.75,129.30M282.45,127.05L285.05,128.55M285.05,127.05L282.45,128.55" stroke="#1797B3" stroke-width="0.8" fill="none" stroke-linecap="butt"/>
<path d="M274.75,130.50L274.75,133.50M273.45,131.25L276.05,132.75M276.05,131.25L273.45,132.75" stroke="#0A4E62" stroke-width="0.8" fill="none" stroke-linecap="butt"/>
<path d="M277.75,130.50L277.75,133.50M276.45,131.25L279.05,132.75M279.05,131.25L276.45,132.75" stroke="#0A4E62" stroke-width="0.8" fill="none" stroke-linecap="butt"/>
<path d="M280.75,130.50L280.75,133.50M279.45,131.25L282.05,132.75M282.05,131.25L279.45,132.75" stroke="#0A4E62" stroke-width="0.8" fill="none" stroke-linecap="butt"/>
<path d="M283.75,130.50L283.75,133.50M282.45,131.25L285.05,132.75M285.05,131.25L282.45,132.75" stroke="#0A4E62" stroke-width="0.8" fill="none" stroke-linecap="butt"/>
<path d="M289.18,103.20L289.18,106.20M287.88,103.95L290.47,105.45M290.47,103.95L287.88,105.45" stroke="#1797B3" stroke-width="0.8" fill="none" stroke-linecap="butt"/>
<path d="M292.18,103.20L292.18,106.20M290.88,103.95L293.47,105.45M293.47,103.95L290.88,105.45" stroke="#1797B3" stroke-width="0.8" fill="none" stroke-linecap="butt"/>
<path d="M295.18,103.20L295.18,106.20M293.88,103.95L296.47,105.45M296.47,103.95L293.88,105.45" stroke="#1797B3" stroke-width="0.8" fill="none" stroke-linecap="butt"/>
<path d="M289.18,107.70L289.18,110.70M287.88,108.45L290.47,109.95M290.47,108.45L287.88,109.95" stroke="#0A4E62" stroke-width="0.8" fill="none" stroke-linecap="butt"/>
<path d="M292.18,107.70L292.18,110.70M290.88,108.45L293.47,109.95M293.47,108.45L290.88,109.95" stroke="#0A4E62" stroke-width="0.8" fill="none" stroke-linecap="butt"/>
<path d="M295.18,107.70L295.18,110.70M293.88,108.45L296.47,109.95M296.47,108.45L293.88,109.95" stroke="#0A4E62" stroke-width="0.8" fill="none" stroke-linecap="butt"/>
<path d="M305.10,93.40L305.10,96.40M303.80,94.15L306.40,95.65M306.40,94.15L303.80,95.65" stroke="#1797B3" stroke-width="0.8" fill="none" stroke-linecap="butt"/>
<path d="M302.10,97.40L302.10,100.40M300.80,98.15L303.40,99.65M303.40,98.15L300.80,99.65" stroke="#0A4E62" stroke-width="0.8" fill="none" stroke-linecap="butt"/>
<path d="M305.10,97.40L305.10,100.40M303.80,98.15L306.40,99.65M306.40,98.15L303.80,99.65" stroke="#0A4E62" stroke-width="0.8" fill="none" stroke-linecap="butt"/>
<path d="M308.10,97.40L308.10,100.40M306.80,98.15L309.40,99.65M309.40,98.15L306.80,99.65" stroke="#0A4E62" stroke-width="0.8" fill="none" stroke-linecap="butt"/>
<path d="M330.95,85.30L330.95,88.30M329.65,86.05L332.25,87.55M332.25,86.05L329.65,87.55" stroke="#1797B3" stroke-width="0.8" fill="none" stroke-linecap="butt"/>
<line x1="470.50" y1="32.50" x2="470.50" y2="167.30" stroke="#1a1a1a" stroke-width="1.4" />
<line x1="466.50" y1="33.25" x2="470.50" y2="33.25" stroke="#1a1a1a" stroke-width="1.2" />
<text x="465.90" y="36.70" font-size="9.6" text-anchor="end" font-weight="normal" fill="#222" >2000</text>
<line x1="466.50" y1="60.00" x2="470.50" y2="60.00" stroke="#1a1a1a" stroke-width="1.2" />
<text x="465.90" y="63.45" font-size="9.6" text-anchor="end" font-weight="normal" fill="#222" >0</text>
<line x1="466.50" y1="86.75" x2="470.50" y2="86.75" stroke="#1a1a1a" stroke-width="1.2" />
<text x="465.90" y="90.20" font-size="9.6" text-anchor="end" font-weight="normal" fill="#222" >-2000</text>
<line x1="466.50" y1="113.50" x2="470.50" y2="113.50" stroke="#1a1a1a" stroke-width="1.2" />
<text x="465.90" y="116.95" font-size="9.6" text-anchor="end" font-weight="normal" fill="#222" >-4000</text>
<line x1="466.50" y1="140.25" x2="470.50" y2="140.25" stroke="#1a1a1a" stroke-width="1.2" />
<text x="465.90" y="143.70" font-size="9.6" text-anchor="end" font-weight="normal" fill="#222" >-6000</text>
<line x1="466.50" y1="167.00" x2="470.50" y2="167.00" stroke="#1a1a1a" stroke-width="1.2" />
<text x="465.90" y="170.45" font-size="9.6" text-anchor="end" font-weight="normal" fill="#222" >-8000</text>
<line x1="469.80" y1="166.70" x2="548.50" y2="166.70" stroke="#1a1a1a" stroke-width="1.4" />
<line x1="486.20" y1="166.70" x2="486.20" y2="169.80" stroke="#1a1a1a" stroke-width="1.2" />
<line x1="509.30" y1="166.70" x2="509.30" y2="169.80" stroke="#1a1a1a" stroke-width="1.2" />
<line x1="532.80" y1="166.70" x2="532.80" y2="169.80" stroke="#1a1a1a" stroke-width="1.2" />
<text x="509.50" y="184.00" font-size="10.9" text-anchor="middle" font-weight="bold" fill="#111" >Low dose</text>
<text transform="translate(436.5,99) rotate(-90)" font-size="10.5" text-anchor="middle" font-weight="bold" fill="#111">AUC</text>
<rect x="478.30" y="60.00" width="15.80" height="2.60" fill="#A5A5A8"/>
<rect x="501.40" y="60.00" width="15.80" height="61.30" fill="#F99D3E"/>
<rect x="524.90" y="60.00" width="15.80" height="39.80" fill="#1797B3"/>
<line x1="470.50" y1="59.90" x2="548.50" y2="59.90" stroke="#2a2a2a" stroke-width="1.7" />
<line x1="486.20" y1="58.10" x2="486.20" y2="66.30" stroke="#111" stroke-width="1.3" />
<line x1="482.40" y1="58.10" x2="490.00" y2="58.10" stroke="#111" stroke-width="1.3" />
<line x1="482.40" y1="66.30" x2="490.00" y2="66.30" stroke="#111" stroke-width="1.3" />
<line x1="509.30" y1="110.20" x2="509.30" y2="133.50" stroke="#111" stroke-width="1.3" />
<line x1="505.50" y1="110.20" x2="513.10" y2="110.20" stroke="#111" stroke-width="1.3" />
<line x1="505.50" y1="133.50" x2="513.10" y2="133.50" stroke="#111" stroke-width="1.3" />
<line x1="532.80" y1="90.60" x2="532.80" y2="109.80" stroke="#111" stroke-width="1.3" />
<line x1="529.00" y1="90.60" x2="536.60" y2="90.60" stroke="#111" stroke-width="1.3" />
<line x1="529.00" y1="109.80" x2="536.60" y2="109.80" stroke="#111" stroke-width="1.3" />
<polyline points="486.20,51.20 486.20,45.20 509.30,45.20 509.30,51.20" fill="none" stroke="#777" stroke-width="1.1"/>
<path d="M489.55,36.10L489.55,40.50M487.64,37.20L491.46,39.40M491.46,37.20L487.64,39.40" stroke="#111" stroke-width="1.0" fill="none" stroke-linecap="butt"/>
<path d="M495.05,36.10L495.05,40.50M493.14,37.20L496.96,39.40M496.96,37.20L493.14,39.40" stroke="#111" stroke-width="1.0" fill="none" stroke-linecap="butt"/>
<path d="M500.55,36.10L500.55,40.50M498.64,37.20L502.46,39.40M502.46,37.20L498.64,39.40" stroke="#111" stroke-width="1.0" fill="none" stroke-linecap="butt"/>
<path d="M506.05,36.10L506.05,40.50M504.14,37.20L507.96,39.40M507.96,37.20L504.14,39.40" stroke="#111" stroke-width="1.0" fill="none" stroke-linecap="butt"/>
<polyline points="486.20,29.10 486.20,23.10 532.50,23.10 532.50,29.10" fill="none" stroke="#777" stroke-width="1.1"/>
<path d="M506.65,14.00L506.65,18.40M504.74,15.10L508.56,17.30M508.56,15.10L504.74,17.30" stroke="#111" stroke-width="1.0" fill="none" stroke-linecap="butt"/>
<path d="M512.15,14.00L512.15,18.40M510.24,15.10L514.06,17.30M514.06,15.10L510.24,17.30" stroke="#111" stroke-width="1.0" fill="none" stroke-linecap="butt"/>
<line x1="603.80" y1="32.50" x2="603.80" y2="167.30" stroke="#1a1a1a" stroke-width="1.4" />
<line x1="599.80" y1="33.25" x2="603.80" y2="33.25" stroke="#1a1a1a" stroke-width="1.2" />
<text x="599.20" y="36.70" font-size="9.6" text-anchor="end" font-weight="normal" fill="#222" >2000</text>
<line x1="599.80" y1="60.00" x2="603.80" y2="60.00" stroke="#1a1a1a" stroke-width="1.2" />
<text x="599.20" y="63.45" font-size="9.6" text-anchor="end" font-weight="normal" fill="#222" >0</text>
<line x1="599.80" y1="86.75" x2="603.80" y2="86.75" stroke="#1a1a1a" stroke-width="1.2" />
<text x="599.20" y="90.20" font-size="9.6" text-anchor="end" font-weight="normal" fill="#222" >-2000</text>
<line x1="599.80" y1="113.50" x2="603.80" y2="113.50" stroke="#1a1a1a" stroke-width="1.2" />
<text x="599.20" y="116.95" font-size="9.6" text-anchor="end" font-weight="normal" fill="#222" >-4000</text>
<line x1="599.80" y1="140.25" x2="603.80" y2="140.25" stroke="#1a1a1a" stroke-width="1.2" />
<text x="599.20" y="143.70" font-size="9.6" text-anchor="end" font-weight="normal" fill="#222" >-6000</text>
<line x1="599.80" y1="167.00" x2="603.80" y2="167.00" stroke="#1a1a1a" stroke-width="1.2" />
<text x="599.20" y="170.45" font-size="9.6" text-anchor="end" font-weight="normal" fill="#222" >-8000</text>
<line x1="603.10" y1="166.70" x2="681.80" y2="166.70" stroke="#1a1a1a" stroke-width="1.4" />
<line x1="619.20" y1="166.70" x2="619.20" y2="169.80" stroke="#1a1a1a" stroke-width="1.2" />
<line x1="642.80" y1="166.70" x2="642.80" y2="169.80" stroke="#1a1a1a" stroke-width="1.2" />
<line x1="666.00" y1="166.70" x2="666.00" y2="169.80" stroke="#1a1a1a" stroke-width="1.2" />
<text x="642.80" y="184.00" font-size="10.9" text-anchor="middle" font-weight="bold" fill="#111" >High dose</text>
<text transform="translate(569.6,99) rotate(-90)" font-size="10.5" text-anchor="middle" font-weight="bold" fill="#111">AUC</text>
<rect x="611.30" y="60.00" width="15.80" height="2.60" fill="#A5A5A8"/>
<rect x="634.90" y="60.00" width="15.80" height="80.70" fill="#C06000"/>
<rect x="658.10" y="60.00" width="15.80" height="48.20" fill="#0A4E62"/>
<line x1="603.80" y1="59.90" x2="681.80" y2="59.90" stroke="#2a2a2a" stroke-width="1.7" />
<line x1="619.20" y1="58.10" x2="619.20" y2="66.30" stroke="#111" stroke-width="1.3" />
<line x1="615.40" y1="58.10" x2="623.00" y2="58.10" stroke="#111" stroke-width="1.3" />
<line x1="615.40" y1="66.30" x2="623.00" y2="66.30" stroke="#111" stroke-width="1.3" />
<line x1="642.80" y1="132.50" x2="642.80" y2="150.50" stroke="#111" stroke-width="1.3" />
<line x1="639.00" y1="132.50" x2="646.60" y2="132.50" stroke="#111" stroke-width="1.3" />
<line x1="639.00" y1="150.50" x2="646.60" y2="150.50" stroke="#111" stroke-width="1.3" />
<line x1="666.00" y1="98.20" x2="666.00" y2="118.30" stroke="#111" stroke-width="1.3" />
<line x1="662.20" y1="98.20" x2="669.80" y2="98.20" stroke="#111" stroke-width="1.3" />
<line x1="662.20" y1="118.30" x2="669.80" y2="118.30" stroke="#111" stroke-width="1.3" />
<polyline points="619.20,51.20 619.20,45.20 640.40,45.20 640.40,51.20" fill="none" stroke="#777" stroke-width="1.1"/>
<path d="M621.55,36.10L621.55,40.50M619.64,37.20L623.46,39.40M623.46,37.20L619.64,39.40" stroke="#111" stroke-width="1.0" fill="none" stroke-linecap="butt"/>
<path d="M627.05,36.10L627.05,40.50M625.14,37.20L628.96,39.40M628.96,37.20L625.14,39.40" stroke="#111" stroke-width="1.0" fill="none" stroke-linecap="butt"/>
<path d="M632.55,36.10L632.55,40.50M630.64,37.20L634.46,39.40M634.46,37.20L630.64,39.40" stroke="#111" stroke-width="1.0" fill="none" stroke-linecap="butt"/>
<path d="M638.05,36.10L638.05,40.50M636.14,37.20L639.96,39.40M639.96,37.20L636.14,39.40" stroke="#111" stroke-width="1.0" fill="none" stroke-linecap="butt"/>
<polyline points="644.40,51.20 644.40,45.20 666.00,45.20 666.00,51.20" fill="none" stroke="#777" stroke-width="1.1"/>
<path d="M655.20,36.10L655.20,40.50M653.29,37.20L657.11,39.40M657.11,37.20L653.29,39.40" stroke="#111" stroke-width="1.0" fill="none" stroke-linecap="butt"/>
<polyline points="619.20,29.10 619.20,23.10 666.00,23.10 666.00,29.10" fill="none" stroke="#777" stroke-width="1.1"/>
<path d="M637.10,14.00L637.10,18.40M635.19,15.10L639.01,17.30M639.01,15.10L635.19,17.30" stroke="#111" stroke-width="1.0" fill="none" stroke-linecap="butt"/>
<path d="M642.60,14.00L642.60,18.40M640.69,15.10L644.51,17.30M644.51,15.10L640.69,17.30" stroke="#111" stroke-width="1.0" fill="none" stroke-linecap="butt"/>
<path d="M648.10,14.00L648.10,18.40M646.19,15.10L650.01,17.30M650.01,15.10L646.19,17.30" stroke="#111" stroke-width="1.0" fill="none" stroke-linecap="butt"/>
<line x1="72.50" y1="251.00" x2="72.50" y2="385.50" stroke="#1a1a1a" stroke-width="1.4" />
<line x1="68.50" y1="251.40" x2="72.50" y2="251.40" stroke="#1a1a1a" stroke-width="1.2" />
<text x="67.90" y="254.85" font-size="9.6" text-anchor="end" font-weight="normal" fill="#222" >40</text>
<line x1="68.50" y1="278.10" x2="72.50" y2="278.10" stroke="#1a1a1a" stroke-width="1.2" />
<text x="67.90" y="281.55" font-size="9.6" text-anchor="end" font-weight="normal" fill="#222" >30</text>
<line x1="68.50" y1="304.80" x2="72.50" y2="304.80" stroke="#1a1a1a" stroke-width="1.2" />
<text x="67.90" y="308.25" font-size="9.6" text-anchor="end" font-weight="normal" fill="#222" >20</text>
<line x1="68.50" y1="331.50" x2="72.50" y2="331.50" stroke="#1a1a1a" stroke-width="1.2" />
<text x="67.90" y="334.95" font-size="9.6" text-anchor="end" font-weight="normal" fill="#222" >10</text>
<line x1="68.50" y1="358.20" x2="72.50" y2="358.20" stroke="#1a1a1a" stroke-width="1.2" />
<text x="67.90" y="361.65" font-size="9.6" text-anchor="end" font-weight="normal" fill="#222" >0</text>
<line x1="68.50" y1="384.90" x2="72.50" y2="384.90" stroke="#1a1a1a" stroke-width="1.2" />
<text x="67.90" y="388.35" font-size="9.6" text-anchor="end" font-weight="normal" fill="#222" >-10</text>
<line x1="71.80" y1="384.80" x2="184.10" y2="384.80" stroke="#1a1a1a" stroke-width="1.4" />
<line x1="94.70" y1="384.80" x2="94.70" y2="388.00" stroke="#1a1a1a" stroke-width="1.2" />
<line x1="128.30" y1="384.80" x2="128.30" y2="388.00" stroke="#1a1a1a" stroke-width="1.2" />
<line x1="161.80" y1="384.80" x2="161.80" y2="388.00" stroke="#1a1a1a" stroke-width="1.2" />
<text transform="translate(29.0,318) rotate(-90)" font-size="10.8" text-anchor="middle" font-weight="bold" fill="#111" textLength="55" lengthAdjust="spacingAndGlyphs">CPP Score</text>
<text transform="translate(40.0,318.3) rotate(-90)" font-size="7.9" text-anchor="middle" font-weight="bold" fill="#222" textLength="103" lengthAdjust="spacingAndGlyphs">(% preference change for</text>
<text transform="translate(48.1,317.4) rotate(-90)" font-size="7.9" text-anchor="middle" font-weight="bold" fill="#222" textLength="88" lengthAdjust="spacingAndGlyphs">drug-paired chamber)</text>
<rect x="83.70" y="351.20" width="22.80" height="7.20" fill="#A5A5A8"/>
<rect x="116.90" y="289.70" width="22.80" height="68.70" fill="#C06000"/>
<rect x="150.60" y="336.10" width="22.40" height="22.30" fill="#0A4E62"/>
<line x1="72.50" y1="358.40" x2="184.10" y2="358.40" stroke="#1a1a1a" stroke-width="1.5" />
<line x1="94.70" y1="337.20" x2="94.70" y2="364.70" stroke="#111" stroke-width="1.3" />
<line x1="89.70" y1="337.20" x2="99.70" y2="337.20" stroke="#111" stroke-width="1.3" />
<line x1="89.70" y1="364.70" x2="99.70" y2="364.70" stroke="#111" stroke-width="1.3" />
<line x1="128.30" y1="276.40" x2="128.30" y2="302.90" stroke="#111" stroke-width="1.3" />
<line x1="123.30" y1="276.40" x2="133.30" y2="276.40" stroke="#111" stroke-width="1.3" />
<line x1="123.30" y1="302.90" x2="133.30" y2="302.90" stroke="#111" stroke-width="1.3" />
<line x1="161.80" y1="324.50" x2="161.80" y2="347.40" stroke="#111" stroke-width="1.3" />
<line x1="156.80" y1="324.50" x2="166.80" y2="324.50" stroke="#111" stroke-width="1.3" />
<line x1="156.80" y1="347.40" x2="166.80" y2="347.40" stroke="#111" stroke-width="1.3" />
<circle cx="92.50" cy="336.50" r="1.6" fill="#111"/>
<circle cx="97.20" cy="338.00" r="1.6" fill="#111"/>
<circle cx="94.70" cy="378.30" r="1.6" fill="#111"/>
<circle cx="128.30" cy="264.80" r="1.6" fill="#111"/>
<circle cx="128.30" cy="293.90" r="1.6" fill="#111"/>
<circle cx="128.30" cy="311.00" r="1.6" fill="#111"/>
<circle cx="161.80" cy="319.50" r="1.6" fill="#111"/>
<circle cx="161.80" cy="288.30" r="1.6" fill="#111"/>
<circle cx="161.80" cy="343.80" r="1.6" fill="#111"/>
<circle cx="161.80" cy="349.80" r="1.6" fill="#111"/>
<circle cx="161.80" cy="367.90" r="1.6" fill="#111"/>
<polyline points="94.5,257.7 94.5,251.2 126.6,251.2 126.6,257.7" fill="none" stroke="#777" stroke-width="1.1"/>
<polyline points="129.7,257.7 129.7,251.2 162.1,251.2 162.1,257.7" fill="none" stroke="#777" stroke-width="1.1"/>
<path d="M110.80,241.70L110.80,246.10M108.89,242.80L112.71,245.00M112.71,242.80L108.89,245.00" stroke="#111" stroke-width="1.0" fill="none" stroke-linecap="butt"/>
<text x="146.00" y="246.60" font-size="5.9" text-anchor="middle" font-weight="normal" fill="#555" ><tspan font-style="italic">p</tspan> = 0.079</text>
<rect x="196.90" y="301.70" width="12.10" height="6.10" fill="#A5A5A8"/>
<text x="216.00" y="308.00" font-size="9.5" text-anchor="start" font-weight="normal" fill="#222" >Vehicle</text>
<rect x="196.90" y="316.85" width="12.10" height="6.10" fill="#C06000"/>
<text x="216.00" y="323.15" font-size="9.5" text-anchor="start" font-weight="normal" fill="#222" >Morphine (10)</text>
<rect x="196.90" y="332.00" width="12.10" height="6.10" fill="#0A4E62"/>
<text x="216.00" y="338.30" font-size="9.5" text-anchor="start" font-weight="normal" fill="#222" >Kurkinol (5)</text>
<line x1="366.00" y1="251.00" x2="366.00" y2="385.50" stroke="#1a1a1a" stroke-width="1.4" />
<line x1="362.00" y1="251.41" x2="366.00" y2="251.41" stroke="#1a1a1a" stroke-width="1.2" />
<text x="361.40" y="254.86" font-size="9.6" text-anchor="end" font-weight="normal" fill="#222" >60</text>
<line x1="362.00" y1="282.84" x2="366.00" y2="282.84" stroke="#1a1a1a" stroke-width="1.2" />
<text x="361.40" y="286.29" font-size="9.6" text-anchor="end" font-weight="normal" fill="#222" >40</text>
<line x1="362.00" y1="314.27" x2="366.00" y2="314.27" stroke="#1a1a1a" stroke-width="1.2" />
<text x="361.40" y="317.72" font-size="9.6" text-anchor="end" font-weight="normal" fill="#222" >20</text>
<line x1="362.00" y1="345.70" x2="366.00" y2="345.70" stroke="#1a1a1a" stroke-width="1.2" />
<text x="361.40" y="349.15" font-size="9.6" text-anchor="end" font-weight="normal" fill="#222" >0</text>
<line x1="362.00" y1="377.13" x2="366.00" y2="377.13" stroke="#1a1a1a" stroke-width="1.2" />
<text x="361.40" y="380.58" font-size="9.6" text-anchor="end" font-weight="normal" fill="#222" >-20</text>
<line x1="365.30" y1="384.80" x2="589.50" y2="384.80" stroke="#1a1a1a" stroke-width="1.4" />
<line x1="380.60" y1="384.80" x2="380.60" y2="389.00" stroke="#1a1a1a" stroke-width="1.2" />
<line x1="402.40" y1="384.80" x2="402.40" y2="389.00" stroke="#1a1a1a" stroke-width="1.2" />
<line x1="438.10" y1="384.80" x2="438.10" y2="389.00" stroke="#1a1a1a" stroke-width="1.2" />
<line x1="459.60" y1="384.80" x2="459.60" y2="389.00" stroke="#1a1a1a" stroke-width="1.2" />
<line x1="495.40" y1="384.80" x2="495.40" y2="389.00" stroke="#1a1a1a" stroke-width="1.2" />
<line x1="517.10" y1="384.80" x2="517.10" y2="389.00" stroke="#1a1a1a" stroke-width="1.2" />
<line x1="552.90" y1="384.80" x2="552.90" y2="389.00" stroke="#1a1a1a" stroke-width="1.2" />
<line x1="574.40" y1="384.80" x2="574.40" y2="389.00" stroke="#1a1a1a" stroke-width="1.2" />
<text x="380.60" y="399.60" font-size="9.4" text-anchor="middle" font-weight="normal" fill="#222" >+/+</text>
<text x="402.40" y="399.60" font-size="9.4" text-anchor="middle" font-weight="normal" fill="#222" >−/−</text>
<text x="438.10" y="399.60" font-size="9.4" text-anchor="middle" font-weight="normal" fill="#222" >+/+</text>
<text x="459.60" y="399.60" font-size="9.4" text-anchor="middle" font-weight="normal" fill="#222" >−/−</text>
<text x="495.40" y="399.60" font-size="9.4" text-anchor="middle" font-weight="normal" fill="#222" >+/+</text>
<text x="517.10" y="399.60" font-size="9.4" text-anchor="middle" font-weight="normal" fill="#222" >−/−</text>
<text x="552.90" y="399.60" font-size="9.4" text-anchor="middle" font-weight="normal" fill="#222" >+/+</text>
<text x="574.40" y="399.60" font-size="9.4" text-anchor="middle" font-weight="normal" fill="#222" >−/−</text>
<text x="477.70" y="415.30" font-size="11" text-anchor="middle" font-weight="bold" fill="#111" >βArr2</text>
<text transform="translate(321.0,318) rotate(-90)" font-size="10.8" text-anchor="middle" font-weight="bold" fill="#111" textLength="55" lengthAdjust="spacingAndGlyphs">CPP Score</text>
<text transform="translate(332.0,318.3) rotate(-90)" font-size="7.9" text-anchor="middle" font-weight="bold" fill="#222" textLength="103" lengthAdjust="spacingAndGlyphs">(% preference change for</text>
<text transform="translate(340.1,317.4) rotate(-90)" font-size="7.9" text-anchor="middle" font-weight="bold" fill="#222" textLength="88" lengthAdjust="spacingAndGlyphs">drug-paired chamber)</text>
<defs>
<pattern id="hg" patternUnits="userSpaceOnUse" width="3.9" height="3.9" patternTransform="rotate(45)"><rect width="3.9" height="3.9" fill="#fff"/><rect width="2.65" height="3.9" fill="#A5A5A8"/></pattern>
<pattern id="ho" patternUnits="userSpaceOnUse" width="3.9" height="3.9" patternTransform="rotate(45)"><rect width="3.9" height="3.9" fill="#fff"/><rect width="2.65" height="3.9" fill="#C06000"/></pattern>
<pattern id="hn" patternUnits="userSpaceOnUse" width="3.9" height="3.9" patternTransform="rotate(45)"><rect width="3.9" height="3.9" fill="#fff"/><rect width="2.65" height="3.9" fill="#15955F"/></pattern>
<pattern id="ht" patternUnits="userSpaceOnUse" width="3.9" height="3.9" patternTransform="rotate(45)"><rect width="3.9" height="3.9" fill="#fff"/><rect width="2.65" height="3.9" fill="#0A4E62"/></pattern>
</defs>
<rect x="373.30" y="327.10" width="14.6" height="18.70" fill="#A5A5A8"/>
<rect x="395.10" y="334.10" width="14.6" height="11.70" fill="url(#hg)"/>
<rect x="430.80" y="295.40" width="14.6" height="50.40" fill="#C06000"/>
<rect x="452.30" y="306.10" width="14.6" height="39.70" fill="url(#ho)"/>
<rect x="488.10" y="300.40" width="14.6" height="45.40" fill="#15955F"/>
<rect x="509.80" y="308.10" width="14.6" height="37.70" fill="url(#hn)"/>
<rect x="545.60" y="310.10" width="14.6" height="35.70" fill="#0A4E62"/>
<rect x="567.10" y="299.10" width="14.6" height="46.70" fill="url(#ht)"/>
<line x1="366.00" y1="345.80" x2="589.50" y2="345.80" stroke="#1a1a1a" stroke-width="1.8" />
<line x1="380.60" y1="317.60" x2="380.60" y2="335.60" stroke="#111" stroke-width="1.0" />
<line x1="378.10" y1="317.60" x2="383.10" y2="317.60" stroke="#111" stroke-width="1.0" />
<line x1="378.10" y1="335.60" x2="383.10" y2="335.60" stroke="#111" stroke-width="1.0" />
<line x1="402.40" y1="323.90" x2="402.40" y2="345.50" stroke="#111" stroke-width="1.0" />
<line x1="399.90" y1="323.90" x2="404.90" y2="323.90" stroke="#111" stroke-width="1.0" />
<line x1="399.90" y1="345.50" x2="404.90" y2="345.50" stroke="#111" stroke-width="1.0" />
<line x1="438.10" y1="290.50" x2="438.10" y2="300.00" stroke="#111" stroke-width="1.0" />
<line x1="435.60" y1="290.50" x2="440.60" y2="290.50" stroke="#111" stroke-width="1.0" />
<line x1="435.60" y1="300.00" x2="440.60" y2="300.00" stroke="#111" stroke-width="1.0" />
<line x1="459.60" y1="299.40" x2="459.60" y2="312.50" stroke="#111" stroke-width="1.0" />
<line x1="457.10" y1="299.40" x2="462.10" y2="299.40" stroke="#111" stroke-width="1.0" />
<line x1="457.10" y1="312.50" x2="462.10" y2="312.50" stroke="#111" stroke-width="1.0" />
<line x1="495.40" y1="294.40" x2="495.40" y2="306.20" stroke="#111" stroke-width="1.0" />
<line x1="492.90" y1="294.40" x2="497.90" y2="294.40" stroke="#111" stroke-width="1.0" />
<line x1="492.90" y1="306.20" x2="497.90" y2="306.20" stroke="#111" stroke-width="1.0" />
<line x1="517.10" y1="300.40" x2="517.10" y2="315.20" stroke="#111" stroke-width="1.0" />
<line x1="514.60" y1="300.40" x2="519.60" y2="300.40" stroke="#111" stroke-width="1.0" />
<line x1="514.60" y1="315.20" x2="519.60" y2="315.20" stroke="#111" stroke-width="1.0" />
<line x1="552.90" y1="300.70" x2="552.90" y2="319.30" stroke="#111" stroke-width="1.0" />
<line x1="550.40" y1="300.70" x2="555.40" y2="300.70" stroke="#111" stroke-width="1.0" />
<line x1="550.40" y1="319.30" x2="555.40" y2="319.30" stroke="#111" stroke-width="1.0" />
<line x1="574.40" y1="291.40" x2="574.40" y2="306.20" stroke="#111" stroke-width="1.0" />
<line x1="571.90" y1="291.40" x2="576.90" y2="291.40" stroke="#111" stroke-width="1.0" />
<line x1="571.90" y1="306.20" x2="576.90" y2="306.20" stroke="#111" stroke-width="1.0" />
<polyline points="390,233.10 390,227.50 562.30,227.50 562.30,233.10" fill="none" stroke="#555" stroke-width="1.1"/>
<line x1="387.60" y1="233.10" x2="392.40" y2="233.10" stroke="#555" stroke-width="1.1" />
<line x1="559.90" y1="233.10" x2="564.70" y2="233.10" stroke="#555" stroke-width="1.1" />
<path d="M473.25,218.80L473.25,223.20M471.34,219.90L475.16,222.10M475.16,219.90L471.34,222.10" stroke="#111" stroke-width="1.0" fill="none" stroke-linecap="butt"/>
<path d="M478.75,218.80L478.75,223.20M476.84,219.90L480.66,222.10M480.66,219.90L476.84,222.10" stroke="#111" stroke-width="1.0" fill="none" stroke-linecap="butt"/>
<polyline points="390,247.30 390,241.70 505.50,241.70 505.50,247.30" fill="none" stroke="#555" stroke-width="1.1"/>
<line x1="387.60" y1="247.30" x2="392.40" y2="247.30" stroke="#555" stroke-width="1.1" />
<line x1="503.10" y1="247.30" x2="507.90" y2="247.30" stroke="#555" stroke-width="1.1" />
<path d="M444.55,232.90L444.55,237.30M442.64,234.00L446.46,236.20M446.46,234.00L442.64,236.20" stroke="#111" stroke-width="1.0" fill="none" stroke-linecap="butt"/>
<path d="M450.05,232.90L450.05,237.30M448.14,234.00L451.96,236.20M451.96,234.00L448.14,236.20" stroke="#111" stroke-width="1.0" fill="none" stroke-linecap="butt"/>
<polyline points="390,260.40 390,254.80 447.90,254.80 447.90,260.40" fill="none" stroke="#555" stroke-width="1.1"/>
<line x1="387.60" y1="260.40" x2="392.40" y2="260.40" stroke="#555" stroke-width="1.1" />
<line x1="445.50" y1="260.40" x2="450.30" y2="260.40" stroke="#555" stroke-width="1.1" />
<path d="M416.05,245.90L416.05,250.30M414.14,247.00L417.96,249.20M417.96,247.00L414.14,249.20" stroke="#111" stroke-width="1.0" fill="none" stroke-linecap="butt"/>
<path d="M421.55,245.90L421.55,250.30M419.64,247.00L423.46,249.20M423.46,247.00L419.64,249.20" stroke="#111" stroke-width="1.0" fill="none" stroke-linecap="butt"/>
<circle cx="379.60" cy="304.00" r="0.85" fill="#111"/>
<circle cx="381.90" cy="303.20" r="0.85" fill="#111"/>
<circle cx="493.80" cy="293.50" r="0.85" fill="#111"/>
<circle cx="497.00" cy="293.50" r="0.85" fill="#111"/>
<circle cx="573.40" cy="288.00" r="0.85" fill="#111"/>
<circle cx="575.50" cy="287.40" r="0.85" fill="#111"/>
<circle cx="380.60" cy="298.50" r="0.85" fill="#111"/>
<circle cx="380.60" cy="307.60" r="0.85" fill="#111"/>
<circle cx="380.60" cy="322.40" r="0.85" fill="#111"/>
<circle cx="380.60" cy="341.40" r="0.85" fill="#111"/>
<circle cx="380.60" cy="353.00" r="0.85" fill="#111"/>
<circle cx="380.60" cy="377.40" r="0.85" fill="#111"/>
<circle cx="402.40" cy="293.40" r="0.85" fill="#111"/>
<circle cx="402.40" cy="300.60" r="0.85" fill="#111"/>
<circle cx="402.40" cy="308.10" r="0.85" fill="#111"/>
<circle cx="402.40" cy="349.80" r="0.85" fill="#111"/>
<circle cx="402.40" cy="360.10" r="0.85" fill="#111"/>
<circle cx="402.40" cy="361.90" r="0.85" fill="#111"/>
<circle cx="402.40" cy="380.30" r="0.85" fill="#111"/>
<circle cx="438.10" cy="276.60" r="0.85" fill="#111"/>
<circle cx="438.10" cy="285.10" r="0.85" fill="#111"/>
<circle cx="438.10" cy="287.60" r="0.85" fill="#111"/>
<circle cx="438.10" cy="303.30" r="0.85" fill="#111"/>
<circle cx="438.10" cy="308.60" r="0.85" fill="#111"/>
<circle cx="438.10" cy="313.30" r="0.85" fill="#111"/>
<circle cx="459.60" cy="266.60" r="0.85" fill="#111"/>
<circle cx="459.60" cy="275.40" r="0.85" fill="#111"/>
<circle cx="459.60" cy="295.50" r="0.85" fill="#111"/>
<circle cx="459.60" cy="306.40" r="0.85" fill="#111"/>
<circle cx="459.60" cy="312.10" r="0.85" fill="#111"/>
<circle cx="459.60" cy="318.20" r="0.85" fill="#111"/>
<circle cx="459.60" cy="320.30" r="0.85" fill="#111"/>
<circle cx="459.60" cy="326.40" r="0.85" fill="#111"/>
<circle cx="459.60" cy="329.40" r="0.85" fill="#111"/>
<circle cx="495.40" cy="270.60" r="0.85" fill="#111"/>
<circle cx="495.40" cy="290.20" r="0.85" fill="#111"/>
<circle cx="495.40" cy="314.50" r="0.85" fill="#111"/>
<circle cx="495.40" cy="316.30" r="0.85" fill="#111"/>
<circle cx="495.40" cy="329.60" r="0.85" fill="#111"/>
<circle cx="517.10" cy="279.60" r="0.85" fill="#111"/>
<circle cx="517.10" cy="290.50" r="0.85" fill="#111"/>
<circle cx="517.10" cy="292.50" r="0.85" fill="#111"/>
<circle cx="517.10" cy="295.70" r="0.85" fill="#111"/>
<circle cx="517.10" cy="324.50" r="0.85" fill="#111"/>
<circle cx="517.10" cy="334.10" r="0.85" fill="#111"/>
<circle cx="552.90" cy="272.40" r="0.85" fill="#111"/>
<circle cx="552.90" cy="279.20" r="0.85" fill="#111"/>
<circle cx="552.90" cy="304.40" r="0.85" fill="#111"/>
<circle cx="552.90" cy="313.40" r="0.85" fill="#111"/>
<circle cx="552.90" cy="319.50" r="0.85" fill="#111"/>
<circle cx="552.90" cy="328.70" r="0.85" fill="#111"/>
<circle cx="552.90" cy="340.50" r="0.85" fill="#111"/>
<circle cx="552.90" cy="343.20" r="0.85" fill="#111"/>
<circle cx="574.40" cy="274.10" r="0.85" fill="#111"/>
<circle cx="574.40" cy="276.70" r="0.85" fill="#111"/>
<circle cx="574.40" cy="281.10" r="0.85" fill="#111"/>
<circle cx="574.40" cy="324.70" r="0.85" fill="#111"/>
<circle cx="574.40" cy="336.10" r="0.85" fill="#111"/>
<rect x="596.20" y="293.80" width="12.60" height="6.00" fill="#A5A5A8"/>
<text x="615.70" y="300.10" font-size="9.5" text-anchor="start" font-weight="normal" fill="#222" >Vehicle</text>
<rect x="596.20" y="308.87" width="12.60" height="6.00" fill="#C06000"/>
<text x="615.70" y="315.17" font-size="9.5" text-anchor="start" font-weight="normal" fill="#222" >Morphine (10.0)</text>
<rect x="596.20" y="323.94" width="12.60" height="6.00" fill="#15955F"/>
<text x="615.70" y="330.24" font-size="9.5" text-anchor="start" font-weight="normal" fill="#222" >Kurkinorin (10.0)</text>
<rect x="596.20" y="339.01" width="12.60" height="6.00" fill="#0A4E62"/>
<text x="615.70" y="345.31" font-size="9.5" text-anchor="start" font-weight="normal" fill="#222" >Kurkinol (5.0)</text>
</svg></body></html>
